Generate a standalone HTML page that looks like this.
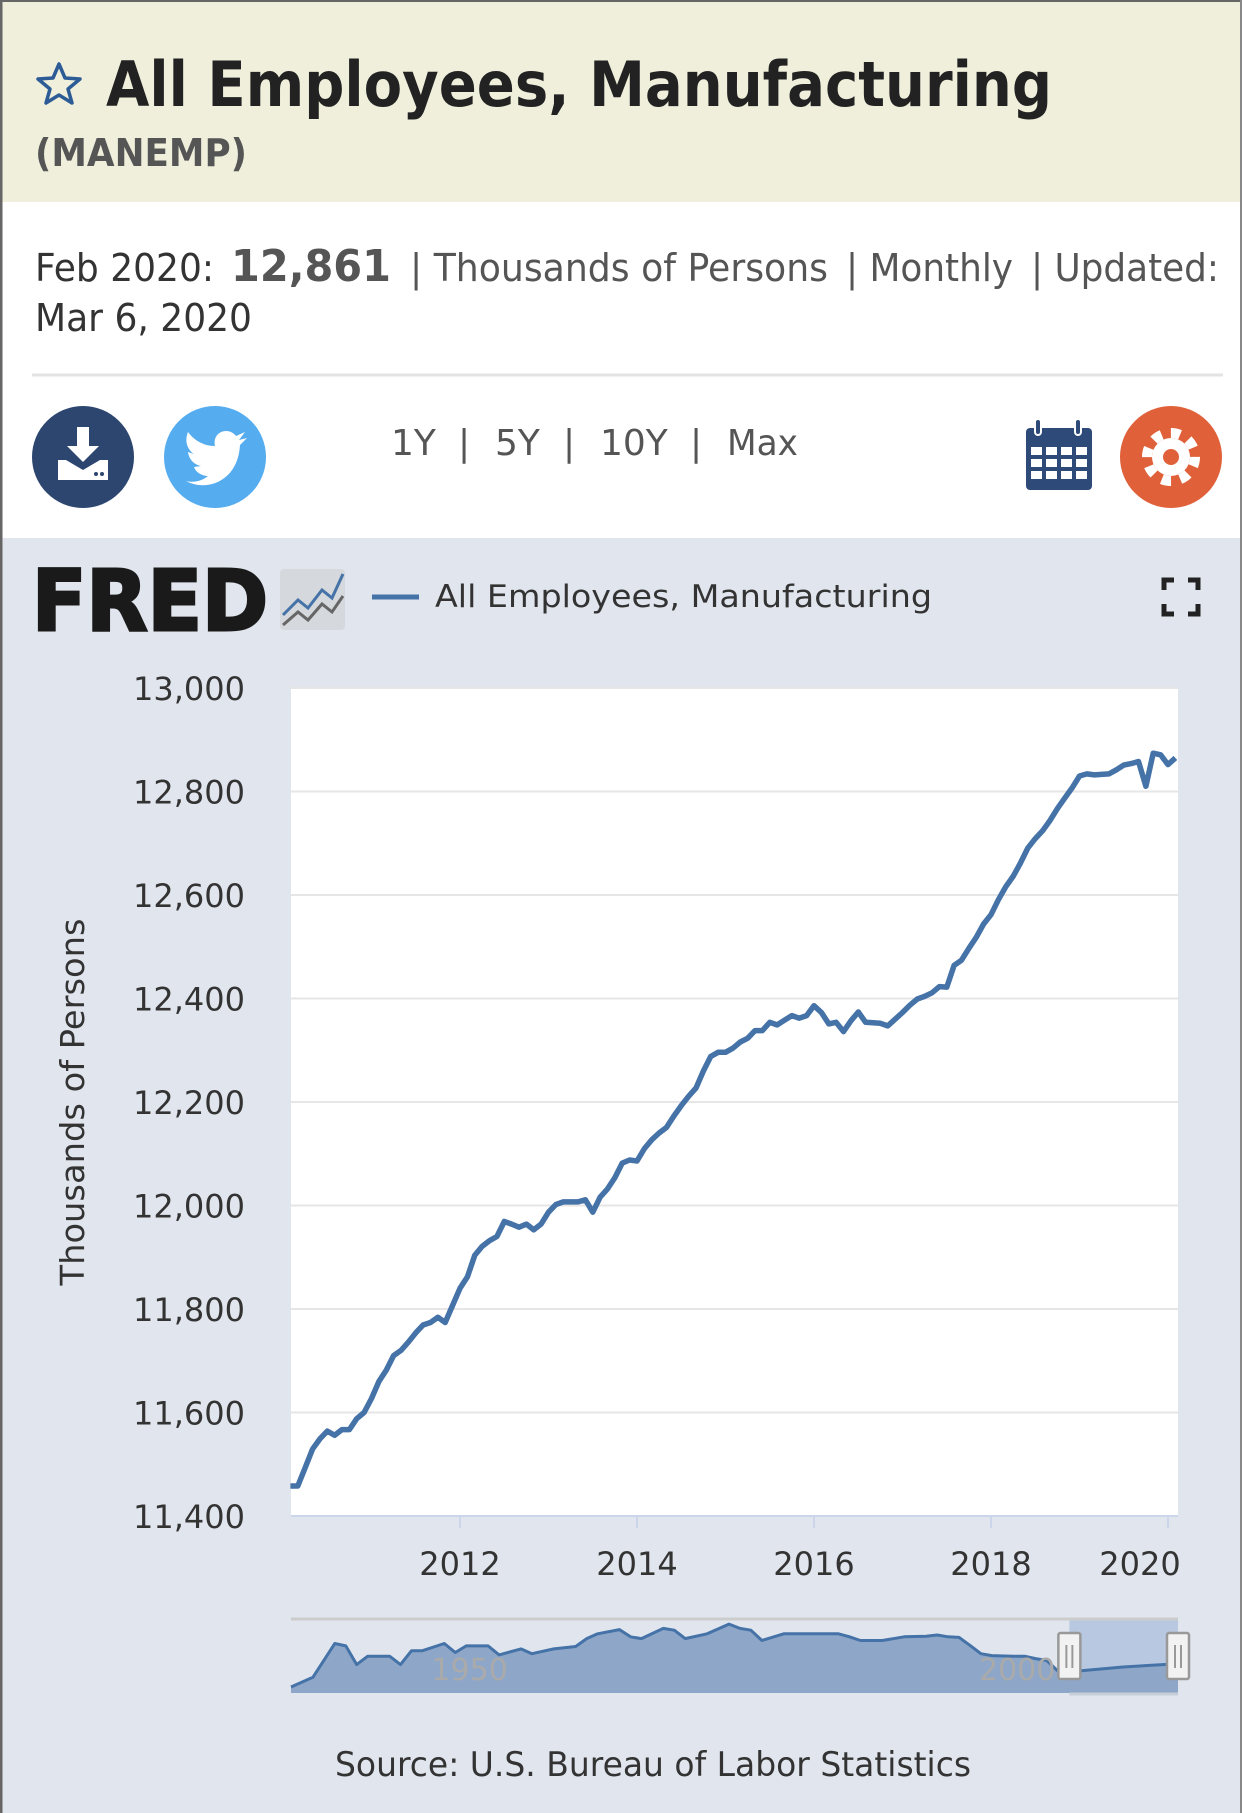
<!DOCTYPE html>
<html><head><meta charset="utf-8">
<style>
html,body{margin:0;padding:0;background:#fff;}
svg{display:block;}
text{font-family:"DejaVu Sans","Liberation Sans",sans-serif;}
</style></head>
<body>
<svg id="page" width="1242" height="1813" viewBox="0 0 1242 1813" xmlns="http://www.w3.org/2000/svg">
  <rect x="0" y="0" width="1242" height="1813" fill="#ffffff"/>
  <rect x="0" y="0" width="1242" height="202" fill="#efefdc"/>
  <rect x="0" y="538" width="1242" height="1275" fill="#e1e6ee"/>
  <line x1="1" y1="0" x2="1" y2="1813" stroke="#666" stroke-width="3"/>
  <line x1="0" y1="1" x2="1242" y2="1" stroke="#666" stroke-width="2"/>
  <line x1="1241" y1="0" x2="1241" y2="1813" stroke="#888" stroke-width="2"/>

  <g>
    <polygon points="59,64 65,78 80,79 68,89 72,103 59,95 46,103 50,89 38,79 53,78" fill="none" stroke="#2c5b95" stroke-width="3.5" stroke-linejoin="round"/>
  </g>
  <text x="106" y="106" font-size="62" font-weight="bold" fill="#222" textLength="946" lengthAdjust="spacingAndGlyphs">All Employees, Manufacturing</text>
  <text x="35" y="166" font-size="38" font-weight="bold" fill="#555" textLength="212" lengthAdjust="spacingAndGlyphs">(MANEMP)</text>

  <g font-size="38" fill="#444">
    <text x="35" y="281" textLength="179" lengthAdjust="spacingAndGlyphs" fill="#333">Feb 2020:</text>
    <text x="231" y="281" font-size="44" font-weight="bold" fill="#555" textLength="160" lengthAdjust="spacingAndGlyphs">12,861</text>
    <text x="410" y="281" textLength="418" lengthAdjust="spacingAndGlyphs" fill="#555">| Thousands of Persons</text>
    <text x="846" y="281" textLength="167" lengthAdjust="spacingAndGlyphs" fill="#555">| Monthly</text>
    <text x="1031" y="281" textLength="188" lengthAdjust="spacingAndGlyphs" fill="#555">| Updated:</text>
    <text x="35" y="331" textLength="217" lengthAdjust="spacingAndGlyphs" fill="#333">Mar 6, 2020</text>
  </g>
  <line x1="32" y1="375" x2="1223" y2="375" stroke="#e3e3e3" stroke-width="3"/>

  <g>
    <circle cx="83" cy="457" r="51" fill="#2d4670"/>
    <rect x="77" y="427" width="12" height="22" fill="#fff"/>
    <polygon points="67,446 99,446 83,462" fill="#fff"/>
    <path d="M58 460 L66 460 L83 470 L100 460 L108 460 L108 480 L58 480 Z" fill="#fff"/>
    <circle cx="96" cy="474" r="2" fill="#2d4670"/><circle cx="102" cy="474" r="2" fill="#2d4670"/>
  </g>
  <g>
    <circle cx="215" cy="457" r="51" fill="#55acee"/>
    <path d="M186 481 C206 492 238 482 240 445 L247 438 L239 440 L245 432 L236 436 C228 426 212 432 215 446 C203 446 194 440 188 432 C184 442 188 450 194 454 L188 452 C189 460 195 465 201 466 L194 467 C196 473 203 476 208 476 C202 481 194 483 186 481 Z" fill="#fff"/>
  </g>
  <g font-size="36" fill="#555">
    <text x="391" y="455">1Y</text>
    <text x="458" y="455">|</text>
    <text x="495" y="455">5Y</text>
    <text x="563" y="455">|</text>
    <text x="600" y="455">10Y</text>
    <text x="690" y="455">|</text>
    <text x="727" y="455" textLength="71" lengthAdjust="spacingAndGlyphs">Max</text>
  </g>
  <g>
    <rect x="1026" y="428" width="66" height="62" rx="4" fill="#2d4a78"/>
    <rect x="1035" y="419" width="6" height="16" rx="3" fill="#2d4a78" stroke="#fff" stroke-width="2"/>
    <rect x="1075" y="419" width="6" height="16" rx="3" fill="#2d4a78" stroke="#fff" stroke-width="2"/>
    <g fill="#fff">
      <rect x="1031" y="447" width="11" height="8"/><rect x="1046" y="447" width="11" height="8"/><rect x="1061" y="447" width="11" height="8"/><rect x="1076" y="447" width="11" height="8"/>
      <rect x="1031" y="459" width="11" height="8"/><rect x="1046" y="459" width="11" height="8"/><rect x="1061" y="459" width="11" height="8"/><rect x="1076" y="459" width="11" height="8"/>
      <rect x="1031" y="471" width="11" height="8"/><rect x="1046" y="471" width="11" height="8"/><rect x="1061" y="471" width="11" height="8"/><rect x="1076" y="471" width="11" height="8"/>
    </g>
  </g>
  <g>
    <circle cx="1171" cy="457" r="51" fill="#e0603a"/>
    <circle cx="1171" cy="457" r="24" fill="none" stroke="#fff" stroke-width="10" stroke-dasharray="9.4 9.4"/>
    <circle cx="1171" cy="457" r="19" fill="#fff"/>
    <circle cx="1171" cy="457" r="8" fill="#e0603a"/>
  </g>

  <g>
    <text x="32" y="630" font-family="Liberation Sans, sans-serif" font-size="84" font-weight="bold" fill="#1a1a1a" textLength="236" lengthAdjust="spacingAndGlyphs" stroke="#1a1a1a" stroke-width="3">FRED</text>
    <rect x="280" y="569" width="65" height="61" rx="4" fill="#d5d8dc"/>
    <polyline points="283,615 298,600 308,608 322,590 332,598 343,574" fill="none" stroke="#4572a7" stroke-width="3"/>
    <polyline points="283,625 298,612 308,620 322,604 332,612 343,596" fill="none" stroke="#666" stroke-width="3"/>
  </g>
  <line x1="372" y1="597" x2="419" y2="597" stroke="#4572a7" stroke-width="5"/>
  <text x="435" y="607" font-size="31" fill="#333" textLength="497" lengthAdjust="spacingAndGlyphs">All Employees, Manufacturing</text>
  <g fill="none" stroke="#222" stroke-width="5">
    <polyline points="1164,590 1164,580 1174,580"/><polyline points="1188,580 1198,580 1198,590"/>
    <polyline points="1164,604 1164,614 1174,614"/><polyline points="1188,614 1198,614 1198,604"/>
  </g>

  <rect x="291" y="688" width="887" height="828" fill="#ffffff"/>
  <g id="grid"></g>
  <g id="yticks"></g>
  <g id="xticks"></g>
  <text transform="translate(84,1102) rotate(-90)" text-anchor="middle" font-size="33" fill="#333" textLength="367" lengthAdjust="spacingAndGlyphs">Thousands of Persons</text>
  <g id="series"></g>
  <g id="navigator"></g>
  <text x="335" y="1776" font-size="34" fill="#333" textLength="636" lengthAdjust="spacingAndGlyphs">Source: U.S. Bureau of Labor Statistics</text>
</svg>
<script>
const values = [
11458,11458,11493,11529,11549,11564,11556,11567,11567,11588,11600,
11627,11660,11682,11710,11720,11736,11754,11769,11774,11784,11774,11807,
11840,11862,11904,11921,11932,11940,11969,11964,11958,11964,11953,11964,
11987,12002,12007,12007,12007,12011,11987,12016,12032,12054,12082,12088,
12086,12110,12127,12140,12151,12173,12193,12211,12227,12260,12288,12296,
12296,12304,12316,12323,12338,12338,12354,12349,12358,12367,12362,12367,
12386,12373,12351,12354,12336,12357,12374,12354,12353,12352,12347,12360,
12373,12387,12399,12404,12411,12423,12422,12464,12474,12497,12518,12544,
12562,12591,12616,12636,12662,12691,12709,12724,12744,12767,12787,12807,
12830,12834,12832,12833,12834,12842,12851,12854,12858,12810,12874,12871,
12852,12865];
const startYear = 2010;
const startMonth = 1; // Feb (0-based)
const yTicks = [11400,11600,11800,12000,12200,12400,12600,12800,13000];
const yTickLabels = ["11,400","11,600","11,800","12,000","12,200","12,400","12,600","12,800","13,000"];
const xTicks = [2012,2014,2016,2018,2020];
const xTickLabels = ["2012","2014","2016","2018","2020"];
const navYears = [1939,1941,1943,1944,1945,1946,1948,1949,1950,1951,1953,1954,1955,1957,1958,1960,1961,1963,1965,1966,1967,1969,1970,1971,1973,1974,1975,1977,1979,1980,1981,1982,1984,1985,1987,1989,1990,1991,1993,1995,1997,1998,1999,2000,2001,2002,2003,2005,2006,2007,2008,2009,2010,2015,2020];
const navValues = [9.0,10.6,16.2,15.8,12.7,14.1,14.1,12.7,15.0,15.0,16.2,14.7,15.8,15.8,14.3,15.3,14.5,15.3,15.7,17.0,17.8,18.5,17.3,17.0,18.7,18.4,17.0,17.8,19.4,18.7,18.4,16.7,17.8,17.8,17.8,17.8,17.3,16.7,16.7,17.3,17.4,17.6,17.3,17.2,15.9,14.5,14.2,14.1,14.1,13.7,13.4,11.7,11.5,12.3,12.85];
const navLabels = [1950,2000];

const NS = "http://www.w3.org/2000/svg";
function mk(tag, attrs, parent){const e=document.createElementNS(NS,tag);for(const k in attrs)e.setAttribute(k,attrs[k]);parent.appendChild(e);return e;}
const P = {l:291,r:1178,t:688,b:1516};
function xScale(t){return 460 + (t-2012)*88.5;}
function yScale(v){return P.b - (v-11400)*(P.b-P.t)/1600;}

const grid = document.getElementById('grid');
const yt = document.getElementById('yticks');
yTicks.forEach((v,i)=>{
  const y = yScale(v);
  if(i>0){
    const g = mk('line',{x1:P.l,x2:P.r,y1:y,y2:y,stroke:'#e6e6e6','stroke-width':2},grid);
    
    
  }
  const t = mk('text',{x:245,y:y+12,'text-anchor':'end','font-size':32,fill:'#333'},yt);
  t.textContent = yTickLabels[i];
  
  
});
const axis = mk('line',{x1:P.l,x2:P.r,y1:P.b,y2:P.b,stroke:'#ccd6eb','stroke-width':2},grid);


const xt = document.getElementById('xticks');
xTicks.forEach((yr,i)=>{
  const x = xScale(yr);
  const tk = mk('line',{x1:x,x2:x,y1:P.b,y2:P.b+12,stroke:'#ccd6eb','stroke-width':2},xt);
  
  
  let lx = x;
  if(lx+38>P.r) lx = P.r-38;
  const t = mk('text',{x:lx,y:1575,'text-anchor':'middle','font-size':32,fill:'#333'},xt);
  t.textContent = xTickLabels[i];
  
  
});

const ser = document.getElementById('series');
const pts = values.map((v,i)=>{const t=startYear+(startMonth+i)/12;return xScale(t).toFixed(1)+','+yScale(v).toFixed(1);});
const line = mk('polyline',{points:pts.join(' '),fill:'none',stroke:'#4572a7','stroke-width':5.5,'stroke-linejoin':'round'},ser);



// navigator
const nav = document.getElementById('navigator');
const N = {l:291,r:1178,t:1619,b:1693};
function nx(yr){return N.l + (yr-1939)*(N.r-N.l)/81;}
function ny(v){return N.b - (v-8.0)*6.04;}
const bg = mk('rect',{x:N.l,y:N.t,width:N.r-N.l,height:N.b-N.t,fill:'#e1e6ee'},nav);


const sel = mk('rect',{x:nx(2010.08),y:N.t,width:N.r-nx(2010.08),height:N.b-N.t,fill:'#b7c8e0'},nav);


mk('line',{x1:N.l,x2:N.r,y1:N.t,y2:N.t,stroke:'#cccccc','stroke-width':3},nav);
const npts = navYears.map((y,i)=>nx(y).toFixed(1)+','+ny(navValues[i]).toFixed(1));
const area = mk('polygon',{points:npts.join(' ')+' '+nx(2020).toFixed(1)+','+N.b+' '+N.l+','+N.b,fill:'#8ea7c8'},nav);


const nline = mk('polyline',{points:npts.join(' '),fill:'none',stroke:'#4572a7','stroke-width':3,'stroke-linejoin':'round'},nav);


mk('line',{x1:nx(2010.08),x2:N.r,y1:N.b+1,y2:N.b+1,stroke:'#c8ced8','stroke-width':3},nav);
navLabels.forEach(yr=>{
  const t = mk('text',{x:nx(yr)+20,y:1680,'font-size':30,fill:'#aaaaaa'},nav);
  t.textContent = String(yr);
  
  
});
[nx(2010.08), N.r].forEach(x=>{
  const h = mk('g',{},nav);
  
  
  mk('rect',{x:x-11,y:1633,width:22,height:46,fill:'#f2f2f2',stroke:'#999','stroke-width':2.5,rx:2},h);
  mk('line',{x1:x-3,x2:x-3,y1:1645,y2:1668,stroke:'#999','stroke-width':2},h);
  mk('line',{x1:x+3,x2:x+3,y1:1645,y2:1668,stroke:'#999','stroke-width':2},h);
});
</script>
</body></html>
